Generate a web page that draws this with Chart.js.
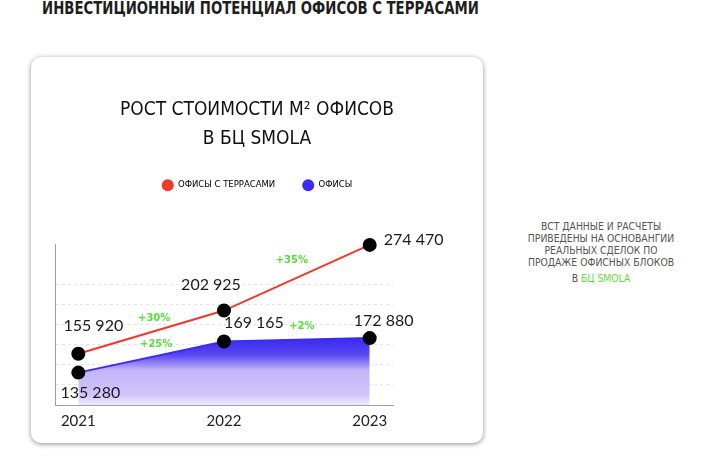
<!DOCTYPE html>
<html lang="ru">
<head>
<meta charset="utf-8">
<title>Рост стоимости м² офисов в БЦ SMOLA</title>
<script src="https://cdn.jsdelivr.net/npm/chart.js@4.4.1/dist/chart.umd.min.js"></script>
<style>
    html, body { margin: 0; padding: 0; background: #fff; }
    body { width: 728px; height: 458px; position: relative; overflow: hidden; }
    h1 {
        position: absolute; left: -50px; top: -2px; width: 621px; margin: 0;
        text-align: center; color: #1e1e1e; white-space: nowrap;
        font: bold 18px/19px "DejaVu Sans Condensed", "DejaVu Sans", sans-serif;
        transform: scaleX(0.82); transform-origin: 310px 0;
    }
    .card {
        position: absolute; left: 31px; top: 57px; width: 452px; height: 386px;
        background: #fff; border-radius: 10px;
        box-shadow: 0 1px 5px rgba(0, 0, 0, 0.45);
    }
    .chart-box { position: absolute; left: 0; top: 0; width: 452px; height: 386px; }
    .note {
        position: absolute; left: 501px; top: 220px; width: 200px;
        text-align: center; color: #555;
        font: 10.3px/12px "DejaVu Sans Condensed", "DejaVu Sans", sans-serif;
    }
    .note p { margin: 0; }
    .note .place { margin-top: 4px; }
    .note .place span { color: #5fd93a; }
</style>
</head>
<body>
<h1>ИНВЕСТИЦИОННЫЙ ПОТЕНЦИАЛ ОФИСОВ С ТЕРРАСАМИ</h1>

<div class="card">
    <div class="chart-box"><canvas id="growth-chart"></canvas></div>
</div>

<div class="note">
    <p>ВСТ ДАННЫЕ И РАСЧЕТЫ<br>ПРИВЕДЕНЫ НА ОСНОВАНГИИ<br>РЕАЛЬНЫХ СДЕЛОК ПО<br>ПРОДАЖЕ ОФИСНЫХ БЛОКОВ</p>
    <p class="place">В <span>БЦ SMOLA</span></p>
</div>

<script>
// Chart data
const years = [2021, 2022, 2023];
const terracePrices = [155920, 202925, 274470];
const officePrices = [135280, 169165, 172880];
const terraceGrowth = ['+30%', '+35%'];
const officeGrowth = ['+25%', '+2%'];

// Colors
const RED = '#f0392c';
const BLUE = '#3c2bf1';
const GREEN = '#58de3a';

// Where the value labels sit relative to their point (px)
const VALUE_LABEL_POS = [
    [{ dx: 15, dy: -28 }, { dx: -13, dy: -26 }, { dx: 14, dy: -5, align: 'left' }],
    [{ dx: 12, dy: 20 }, { dx: 30, dy: -19 }, { dx: 14, dy: -17 }]
];
// Growth labels, relative to the middle of each segment
const GROWTH_LABEL_POS = [
    [{ dx: 3, dy: -14 }, { dx: -5, dy: -17 }],
    [{ dx: 5, dy: -13 }, { dx: 5, dy: -13 }]
];

Chart.defaults.font.family = 'Lato, "DejaVu Sans", sans-serif';
Chart.defaults.color = '#222';

// 155920 -> "155 920"
function formatPrice(v) {
    return String(v).replace(/\B(?=(\d{3})+(?!\d))/g, ' ');
}

function toPoints(values) {
    return years.map((year, i) => ({ x: year, y: values[i] }));
}

// Vertical blue -> lavender gradient under the offices line
function officeFill(context) {
    const chart = context.chart;
    const area = chart.chartArea;
    if (!area) return 'rgba(60, 43, 241, 0.4)';
    const top = chart.scales.y.getPixelForValue(Math.max(...officePrices));
    const g = chart.ctx.createLinearGradient(0, top, 0, area.bottom);
    g.addColorStop(0, '#3a2af0');
    g.addColorStop(0.25, '#5846f2');
    g.addColorStop(0.48, '#c2b5f8');
    g.addColorStop(0.85, '#cfc5fa');
    g.addColorStop(1, '#efebfe');
    return g;
}

// Push the plot down a bit below the legend
const legendSpacer = {
    id: 'legendSpacer',
    beforeInit(chart) {
        const originalFit = chart.legend.fit;
        chart.legend.fit = function fit() {
            originalFit.bind(chart.legend)();
            this.height += 45;
        };
    }
};

// Value labels at the points and growth labels over each segment
const valueLabels = {
    id: 'valueLabels',
    afterDatasetsDraw(chart) {
        const c = chart.ctx;
        c.save();
        c.textBaseline = 'middle';
        chart.data.datasets.forEach((ds, di) => {
            const pts = chart.getDatasetMeta(di).data;

            c.font = '16px Lato, "DejaVu Sans", sans-serif';
            c.fillStyle = '#1a1a1a';
            pts.forEach((p, i) => {
                const pos = VALUE_LABEL_POS[di][i];
                c.textAlign = pos.align || 'center';
                c.fillText(formatPrice(ds.data[i].y), p.x + pos.dx, p.y + pos.dy);
            });

            c.font = 'bold 10px "DejaVu Sans", sans-serif';
            c.fillStyle = GREEN;
            c.textAlign = 'center';
            ds.growth.forEach((text, i) => {
                const a = pts[i], b = pts[i + 1];
                const pos = GROWTH_LABEL_POS[di][i];
                c.fillText(text, (a.x + b.x) / 2 + pos.dx, (a.y + b.y) / 2 + pos.dy);
            });
        });
        c.restore();
    }
};

const ctx = document.getElementById('growth-chart').getContext('2d');
new Chart(ctx, {
    type: 'line',
    data: {
        datasets: [
            {
                label: 'ОФИСЫ С ТЕРРАСАМИ',
                data: toPoints(terracePrices),
                growth: terraceGrowth,
                borderColor: RED,
                backgroundColor: RED,
                borderWidth: 2,
                fill: false,
                pointBackgroundColor: '#000',
                pointBorderColor: '#000'
            },
            {
                label: 'ОФИСЫ',
                data: toPoints(officePrices),
                growth: officeGrowth,
                borderColor: BLUE,
                backgroundColor: officeFill,
                borderWidth: 2,
                fill: 'start',
                pointBackgroundColor: '#000',
                pointBorderColor: '#000'
            }
        ]
    },
    options: {
        responsive: true,
        maintainAspectRatio: false,
        animation: false,
        events: [],
        clip: false,
        elements: {
            line: { tension: 0 },
            point: { radius: 6, hoverRadius: 6, borderWidth: 0 }
        },
        layout: { padding: { top: 0, left: 24, right: 24, bottom: 6 } },
        plugins: {
            title: {
                display: true,
                text: ['РОСТ СТОИМОСТИ М² ОФИСОВ', 'В БЦ SMOLA'],
                color: '#111',
                font: { family: '"DejaVu Sans Condensed", "DejaVu Sans", sans-serif', size: 19, weight: 'normal', lineHeight: 1.55 },
                padding: { top: 38, bottom: 0 }
            },
            legend: {
                display: true,
                labels: {
                    usePointStyle: true,
                    pointStyleWidth: 12,
                    padding: 27,
                    color: '#333',
                    font: { family: '"DejaVu Sans", sans-serif', size: 8.5 },
                    generateLabels: chart => chart.data.datasets.map((ds, i) => ({
                        text: ds.label,
                        fillStyle: ds.borderColor,
                        strokeStyle: ds.borderColor,
                        lineWidth: 0,
                        pointStyle: 'circle',
                        hidden: false,
                        datasetIndex: i
                    }))
                }
            },
            tooltip: { enabled: false }
        },
        scales: {
            x: {
                type: 'linear',
                min: 2020.84,
                max: 2023.16,
                afterBuildTicks: scale => { scale.ticks = years.map(v => ({ value: v })); },
                grid: { display: false, drawTicks: false },
                border: { display: true, color: '#a0a0a0', width: 1 },
                ticks: {
                    padding: 7,
                    color: '#222',
                    font: { size: 15 },
                    callback: v => String(v)
                }
            },
            y: {
                min: 100000,
                max: 275000,
                grid: {
                    drawTicks: false,
                    color: c => (c.tick && (c.tick.value > 240000 || c.tick.value <= 100000)) ? 'rgba(0,0,0,0)' : '#e4e4e4'
                },
                border: { display: true, color: '#a0a0a0', width: 1, dash: [3, 3] },
                ticks: { display: false, stepSize: 22500 }
            },
            // empty axis that only keeps room on the right for the labels
            spacer: {
                type: 'linear',
                position: 'right',
                display: true,
                grid: { display: false, drawTicks: false },
                border: { display: false },
                ticks: { display: false },
                afterFit: scale => { scale.width = 66; }
            }
        }
    },
    plugins: [legendSpacer, valueLabels]
});
</script>
</body>
</html>
